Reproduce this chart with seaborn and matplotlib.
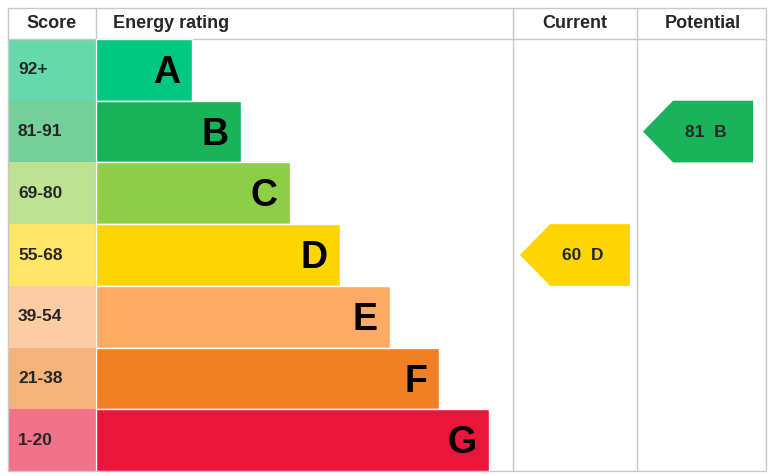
import matplotlib
matplotlib.use("Agg")
import matplotlib.pyplot as plt
import seaborn as sns
import pandas as pd
from matplotlib.patches import Rectangle, Polygon

bands = ["A", "B", "C", "D", "E", "F", "G"]
scores = ["92+", "81-91", "69-80", "55-68", "39-54", "21-38", "1-20"]
bar_len = [96, 145, 194, 244, 294, 343, 393]
colors = ["#00c781", "#19b459", "#8dce46", "#ffd500", "#fcaa65", "#ef8023", "#e9153b"]
light = ["#66d9ac", "#74d09a", "#bde294", "#ffe666", "#fdcca2", "#f5b37b", "#f27389"]
current_val, current_band = 60, "D"
potential_val, potential_band = 81, "B"

sns.set_theme(style="white")
plt.rcParams['font.family'] = ['Liberation Sans', 'DejaVu Sans']
fig = plt.figure(figsize=(7.68, 4.76), dpi=100)
W, H = 768, 476
top, rowh = 39, (471 - 39) / 7

# overlay axis in pixel coords
ov = fig.add_axes([0, 0, 1, 1])
ov.set_xlim(0, W); ov.set_ylim(H, 0); ov.axis("off")

# bar axis
bx = fig.add_axes([96 / W, (H - 471) / H, (513 - 96) / W, (471 - 39) / H])
df = pd.DataFrame({"band": bands, "len": bar_len})
sns.barplot(data=df, x="len", y="band", hue="band", palette=colors, orient="h",
            width=1.0, ax=bx, legend=False, saturation=1)
bx.set_xlim(0, 513 - 96); bx.set_ylim(6.5, -0.5); bx.axis("off")
for i, (b, l) in enumerate(zip(bands, bar_len)):
    bx.text(l - 12, i + 0.05, b, ha="right", va="center", fontsize=27, fontweight="bold", color="black")

for i, s in enumerate(scores):
    y0 = top + i * rowh
    ov.add_patch(Rectangle((8, y0), 88, rowh, color=light[i], lw=0))
    ov.text(18, y0 + rowh / 2, s, ha="left", va="center", fontsize=12.5, fontweight="bold")

# grid lines
lc = "#c8c8c8"
ov.plot([8, 766, 766, 8, 8], [8, 8, 471, 471, 8], color=lc, lw=1)
ov.plot([8, 766], [39, 39], color=lc, lw=1)
for x in [96, 513, 637]:
    ov.plot([x, x], [8, 471], color=lc, lw=1)

ov.text(52, 24, "Score", ha="center", va="center", fontsize=13, fontweight="bold")
ov.text(113, 24, "Energy rating", ha="left", va="center", fontsize=13, fontweight="bold")
ov.text(575, 24, "Current", ha="center", va="center", fontsize=13, fontweight="bold")
ov.text(703, 24, "Potential", ha="center", va="center", fontsize=13, fontweight="bold")

def arrow(x0, x1, band, val):
    i = bands.index(band)
    y0 = top + i * rowh; y1 = y0 + rowh; ym = (y0 + y1) / 2
    tip = 30
    ov.add_patch(Polygon([(x0, ym), (x0 + tip, y0), (x1, y0), (x1, y1), (x0 + tip, y1)],
                         closed=True, color=colors[i], lw=0))
    ov.text((x0 + x1) / 2 + 8, ym + 1, f"{val}  {band}", ha="center", va="center",
            fontsize=12.5, fontweight="bold")

arrow(520, 630, current_band, current_val)
arrow(643, 753, potential_band, potential_val)

fig.savefig("out.png", dpi=100, facecolor="white")
